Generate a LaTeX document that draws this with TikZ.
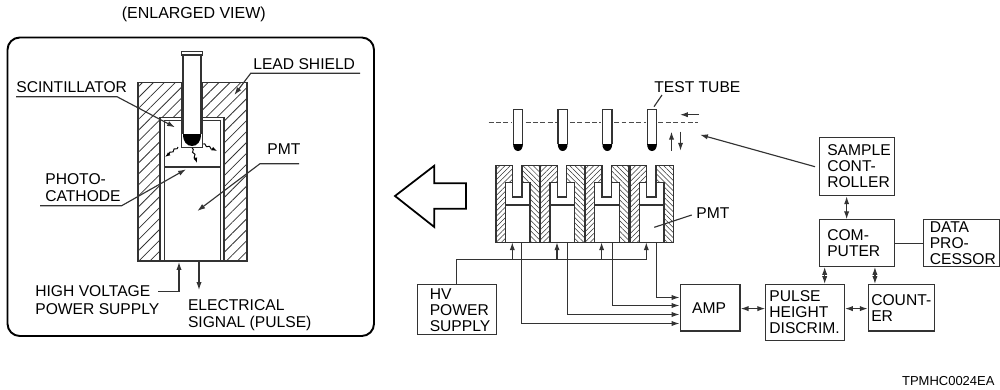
\documentclass[tikz,border=0pt]{standalone}
\usepackage{fontspec}
\setmainfont{Liberation Sans}
\usepackage{tikz}
\usetikzlibrary{patterns.meta,arrows.meta,decorations.pathmorphing}

\tikzset{
  wire/.style={line width=0.65pt,draw=black!80},
  tip/.style={-{Latex[length=4.5pt,width=3pt]}},
  bothtip/.style={{Latex[length=4.5pt,width=3pt]}-{Latex[length=4.5pt,width=3pt]}},
  blockbox/.style n args={3}{wire,anchor=north west,align=left,
    minimum height=#2 cm,inner ysep=0pt,inner xsep=#3 cm,text width=#1 cm-2*#3 cm,
    font=\fontsize{8.9}{9.1}\selectfont},
  tag/.style={anchor=west,align=left,inner sep=0pt,font=\fontsize{8.9}{9.9}\selectfont},
  smalltag/.style={anchor=west,inner sep=0pt,font=\fontsize{7.4}{8}\selectfont},
  widehatch/.style={pattern={Lines[angle=45,distance=4.4pt,line width=0.45pt]},pattern color=black!80},
  finehatch/.style={pattern={Lines[angle=#1,distance=2.1pt,line width=0.3pt]},pattern color=black!80},
  spark/.style={line width=0.55pt,-{Latex[length=3pt,width=2.2pt]},decorate,decoration={snake,amplitude=0.5pt,segment length=3pt,post length=2.5pt}}
}

\begin{document}
\begin{tikzpicture}[x=0.02cm,y=-0.02cm]
  \useasboundingbox (0,0) rectangle (1000,389);

  % enlarged view
  \node[tag,font=\fontsize{9.1}{10}\selectfont] (enlarged) at (121.5,14.5) {(ENLARGED VIEW)};
  \draw[line width=1.1pt,rounded corners=7pt] (7.5,37.5) rectangle (374,336);

  % shield
  \draw[wire,widehatch] (138,82.7) -- (181.7,82.7) -- (181.7,117.3) -- (160,117.3) -- (160,261) -- (138,261) -- cycle;
  \draw[wire,widehatch] (202.7,82.7) -- (247,82.7) -- (247,261) -- (224,261) -- (224,117.3) -- (202.7,117.3) -- cycle;
  \draw[wire] (164.5,261) -- (164.5,120.5) -- (181.7,120.5);
  \draw[wire] (202.7,120.5) -- (220.5,120.5) -- (220.5,261);
  \draw[wire] (160,261) -- (224,261);
  \draw[wire] (164.5,167) -- (220.5,167);
  \draw[wire] (181.7,117.3) -- (181.7,147.7) -- (202.7,147.7) -- (202.7,117.3);

  % tube in the shield
  \fill[black] (183,134) .. controls (183,142) and (187,146) .. (192,146) .. controls (197,146) and (201,142) .. (201,134) -- cycle;
  \draw[wire] (183,54.5) -- (183,134);
  \draw[wire] (201,54.5) -- (201,134);
  \draw[wire,fill=white] (181.5,51.5) rectangle (202.5,55);
  \draw[spark] (178,147) -- (165,157);
  \draw[spark] (203,144) -- (217,151);
  \draw[spark] (192,148) -- (197,163);

  % labels of the enlarged view
  \node[tag] (leadshield) at (253,64) {LEAD SHIELD};
  \node[tag] (scint) at (16,87) {SCINTILLATOR};
  \node[tag] (photo) at (45,187.5) {PHOTO-\\CATHODE};
  \node[tag] (bigpmt) at (267,149.5) {PMT};
  \node[tag] (hvlabel) at (35,300) {HIGH VOLTAGE\\POWER SUPPLY};
  \node[tag] (signal) at (187.7,315) {ELECTRICAL\\SIGNAL (PULSE)};
  \coordinate (leadend) at (360,73.3);
  \coordinate (leadknee) at (250.7,73.3);
  \coordinate (leadtip) at (234.3,95);
  \coordinate (scintend) at (16,96.7);
  \coordinate (scintknee) at (117,96.7);
  \coordinate (scinttip) at (175,127.3);
  \coordinate (photoend) at (40,205.7);
  \coordinate (photoknee) at (121.7,205.7);
  \coordinate (phototip) at (186,169.3);
  \coordinate (pmtend) at (299,163.7);
  \coordinate (pmtknee) at (260,163.7);
  \coordinate (pmttip) at (197.3,211);
  \coordinate (hvstart) at (158.3,291.7);
  \coordinate (hvknee) at (179,291.7);
  \coordinate (hvtip) at (179,262);
  \coordinate (sigstart) at (199,261);
  \coordinate (sigtip) at (199,290);
  \draw[wire,tip] (leadend) -- (leadknee) -- (leadtip);
  \draw[wire,tip] (scintend) -- (scintknee) -- (scinttip);
  \draw[wire,tip] (photoend) -- (photoknee) -- (phototip);
  \draw[wire,tip] (pmtend) -- (pmtknee) -- (pmttip);
  \draw[wire,tip] (hvstart) -- (hvknee) -- (hvtip);
  \draw[wire,tip] (sigstart) -- (sigtip);

  % big arrow
  \draw[line width=1pt] (395,196) -- (434.3,165.7) -- (434.3,183.3) -- (466,183.3) -- (466,208.7) -- (434.3,208.7) -- (434.3,227) -- cycle;

  % test tubes
  \draw[line width=0.55pt,draw=black!70,dash pattern=on 2.8pt off 1.4pt] (488.7,122) -- (698,122);
  \foreach \i/\x in {1/518,2/562.7,3/607.3,4/652} {
    \fill[white] (\x-6,116) rectangle (\x+6,128);
    \draw[wire,fill=white] (\x-4.7,144) -- (\x-4.7,109.3) -- (\x+4.7,109.3) -- (\x+4.7,144);
    \fill[black] (\x-4.9,144) .. controls (\x-4.9,148) and (\x-3,151) .. (\x,151) .. controls (\x+3,151) and (\x+4.9,148) .. (\x+4.9,144) -- cycle;
  }

  % pmt row
  \foreach \i/\x/\o in {1/496/521.5,2/540.7/567.5,3/585.3/612.5,4/630/656.5} {
    \begin{scope}[shift={(\x,0)}]
      \draw[wire,finehatch=45] (0,165.7) -- (16.7,165.7) -- (16.7,182.3) -- (9.3,182.3) -- (9.3,242.3) -- (0,242.3) -- cycle;
      \draw[wire,finehatch=-45] (26,165.7) -- (43.7,165.7) -- (43.7,242.3) -- (34,242.3) -- (34,182.3) -- (26,182.3) -- cycle;
      \draw[wire] (16.7,182.3) -- (16.7,197) -- (26,197) -- (26,182.3);
      \draw[wire] (9.3,205) -- (34,205);
      \draw[wire] (9.3,242.3) -- (34,242.3);
      \coordinate (hv\i) at (16.3,242.3);
    \end{scope}
    \coordinate (out\i) at (\o,242.3);
  }

  \node[tag] (testtube) at (654,87) {TEST TUBE};
  \node[tag] (rowpmt) at (696,212.7) {PMT};
  \coordinate (tubeend) at (662,95);
  \coordinate (tubetip) at (654,106.7);
  \coordinate (rowend) at (691.7,215);
  \coordinate (rowtip) at (654.3,227.3);
  \draw[wire] (tubeend) -- (tubetip);
  \draw[wire] (rowend) -- (rowtip);

  % blocks
  \node[blockbox={1.59}{1.00}{0.25}] (hvps) at (416.7,284.3) {HV\\POWER\\SUPPLY};
  \node[blockbox={1.20}{0.93}{0.24}] (amp) at (679.5,284) {AMP};
  \node[blockbox={1.57}{1.12}{0.07}] (pulse) at (765.3,284) {PULSE\\HEIGHT\\DISCRIM.};
  \node[blockbox={1.33}{0.93}{0.06}] (counter) at (867.7,284) {COUNT-\\ER};
  \node[blockbox={1.51}{0.93}{0.16}] (computer) at (818.7,219.3) {COM-\\PUTER};
  \node[blockbox={1.51}{1.17}{0.16}] (sample) at (818.7,136.7) {SAMPLE\\CONT-\\ROLLER};
  \node[blockbox={1.52}{0.93}{0.13}] (data) at (922.7,219.3) {DATA\\PRO-\\CESSOR};
  \node[smalltag] (code) at (901.7,380.7) {TPMHC0024EA};

  % hv feed
  \coordinate (hvbus) at (456.5,259.5);
  \draw[wire] (hvps.north -| hvbus) -- (hvbus) -- (hvbus -| hv4);
  \foreach \i in {1,2,3,4} {
    \draw[wire,tip] (hvbus -| hv\i) -- (hv\i);
  }

  % signal lines
  \foreach \i/\y in {1/323.5,2/314.5,3/305.5,4/297.5} {
    \draw[wire,tip] (out\i) |- (amp.west |- 0,\y);
  }

  % control lines
  \coordinate (moveup) at (671.5,150.7);
  \coordinate (moveuptip) at (671.5,131.7);
  \coordinate (movedown) at (680.5,131.7);
  \coordinate (movedowntip) at (680.5,150.7);
  \coordinate (feedstart) at (699,114.7);
  \coordinate (feedtip) at (680,114.7);
  \coordinate (samplefrom) at (815,166.7);
  \coordinate (sampletip) at (700,134.7);
  \draw[wire,tip] (moveup) -- (moveuptip);
  \draw[wire,tip] (movedown) -- (movedowntip);
  \draw[wire,tip] (feedstart) -- (feedtip);
  \draw[wire,tip] (samplefrom) -- (sampletip);
  \draw[wire,bothtip] ([xshift=15.9pt]sample.south west) -- ([xshift=15.9pt]computer.north west);
  \draw[wire,bothtip] ([xshift=3.4pt]computer.south west) -- ([xshift=3.4pt]computer.south west |- pulse.north);
  \draw[wire,bothtip] ([xshift=32pt]computer.south west) -- ([xshift=32pt]computer.south west |- counter.north);
  \draw[wire,bothtip] ([yshift=-14pt]amp.north east) -- ([yshift=-14pt]amp.north east -| pulse.west);
  \draw[wire,bothtip] ([yshift=-14pt]pulse.north east) -- ([yshift=-14pt]pulse.north east -| counter.west);
  \draw[wire] (computer.east) -- (data.west);
\end{tikzpicture}
\end{document}
